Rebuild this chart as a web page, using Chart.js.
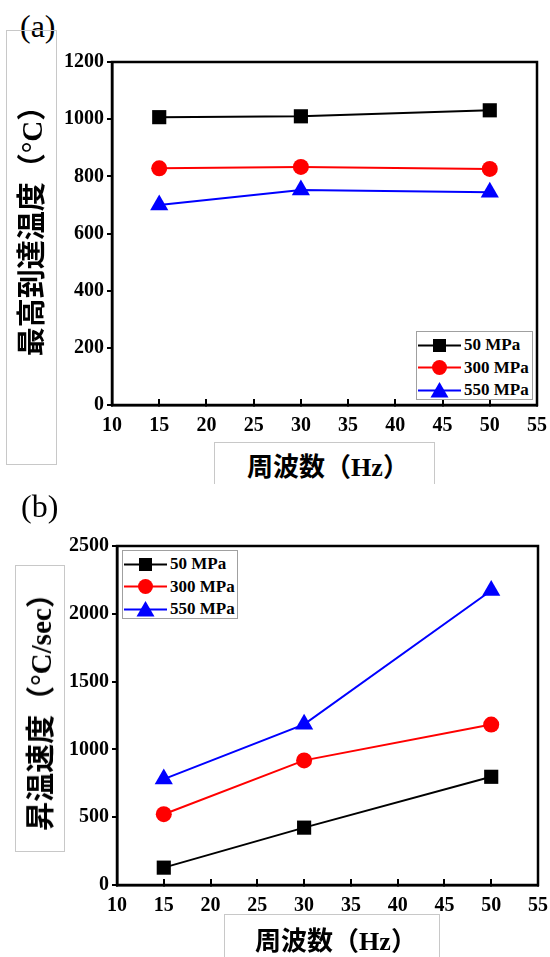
<!DOCTYPE html>
<html>
<head>
<meta charset="utf-8">
<script src="https://cdn.jsdelivr.net/npm/chart.js@4/dist/chart.umd.min.js"></script>
<style>
  html, body { margin: 0; padding: 0; background: #fff; }
  body { width: 550px; height: 957px; position: relative; overflow: hidden; }
  .wrap { position: absolute; left: 0; width: 550px; height: 440px; }
  .box { position: absolute; border: 1px solid #c8c8c8; box-sizing: border-box; }
  .panel { position: absolute; font: 32px "Liberation Serif", serif; line-height: 1; }
  .title { position: absolute; white-space: nowrap; font-weight: 700; line-height: 1; transform: translate(-50%, -50%); }
  .title.y { transform: translate(-50%, -50%) rotate(-90deg); }
  .cjk { font-family: "Noto Sans CJK JP", sans-serif; }
  .ser { font-family: "Liberation Serif", serif; }
  .legend { position: absolute; border: 1px solid #a0a0a0; background: #fff; box-sizing: border-box; }
  .row { position: absolute; left: 1px; height: 20px; display: flex; align-items: center; font: 700 17px "Liberation Serif", serif; white-space: nowrap; }
  .row svg { margin-right: 3px; }
</style>
</head>
<body>

<div class="panel" style="left:20px; top:10px;">(a)</div>
<div class="box" style="left:6px; top:30px; width:51px; height:435px;"></div>
<div class="wrap" style="top:0;"><canvas id="chartTop"></canvas></div>
<div class="box" style="left:214px; top:442px; width:221px; height:42px; border-bottom:none;"></div>
<div class="title y" style="left:31px; top:224px; font-size:29px;"><span class="cjk">最高到達温度（</span><span class="ser">°C</span><span class="cjk">）</span></div>
<div class="title" style="left:328px; top:466px; font-size:26px;"><span class="cjk">周波数（</span><span class="ser">Hz</span><span class="cjk">）</span></div>
<div class="legend" id="legendTop" style="left:416px; top:331px; width:117px; height:69px;"></div>

<div class="panel" style="left:21px; top:490px;">(b)</div>
<div class="box" style="left:15px; top:565px; width:50px; height:287px;"></div>
<div class="wrap" style="top:480px;"><canvas id="chartBottom"></canvas></div>
<div class="box" style="left:224px; top:914px; width:216px; height:60px; border-bottom:none;"></div>
<div class="title y" style="left:40px; top:705px; font-size:29px;"><span class="cjk">昇温速度（</span><span class="ser">°C/sec</span><span class="cjk">）</span></div>
<div class="title" style="left:336px; top:940px; font-size:26px;"><span class="cjk">周波数（</span><span class="ser">Hz</span><span class="cjk">）</span></div>
<div class="legend" id="legendBottom" style="left:122px; top:550px; width:116px; height:69px;"></div>

<script>
// data
const freq = [15, 30, 50];
const seriesNames = ['50 MPa', '300 MPa', '550 MPa'];

// (a) peak temperature, °C
const peak50 = [1007, 1010, 1031];
const peak300 = [828, 833, 826];
const peak550 = [700, 752, 744];

// (b) heating rate, °C/sec
const rate50 = [128, 423, 798];
const rate300 = [522, 919, 1183];
const rate550 = [781, 1185, 2172];

const xTicks = [10, 15, 20, 25, 30, 35, 40, 45, 50, 55];
const yTicksTop = [0, 200, 400, 600, 800, 1000, 1200];
const yTicksBottom = [0, 500, 1000, 1500, 2000, 2500];

const colors = ['#000000', '#ff0000', '#0000ff'];
const shapes = ['rect', 'circle', 'triangle'];
const radii = [10, 8, 10.5];

const tickFont = { family: 'Liberation Serif', size: 20, weight: 'bold' };

// box around the plot area
const frame = {
  id: 'frame',
  afterDraw(chart) {
    const { ctx, chartArea: a } = chart;
    ctx.save();
    ctx.strokeStyle = '#000';
    ctx.lineWidth = 2.5;
    ctx.strokeRect(a.left, a.top, a.right - a.left, a.bottom - a.top);
    ctx.restore();
  },
};

function makeDatasets(values) {
  return values.map((v, i) => ({
    label: seriesNames[i],
    data: freq.map((f, j) => ({ x: f, y: v[j] })),
    borderColor: colors[i],
    backgroundColor: colors[i],
    pointBackgroundColor: colors[i],
    pointBorderColor: colors[i],
    pointStyle: shapes[i],
    pointRadius: radii[i],
    pointBorderWidth: 0,
    borderWidth: 2,
    tension: 0,
  }));
}

function renderChart(id, values, yTicks, pad, yWidth) {
  const ctx = document.getElementById(id);
  new Chart(ctx, {
    type: 'line',
    data: { datasets: makeDatasets(values) },
    options: {
      responsive: true,
      maintainAspectRatio: false,
      animation: false,
      events: [],
      layout: { padding: pad },
      plugins: { legend: { display: false }, tooltip: { enabled: false } },
      scales: {
        x: {
          type: 'linear',
          min: xTicks[0],
          max: xTicks[xTicks.length - 1],
          afterBuildTicks: s => { s.ticks = xTicks.map(v => ({ value: v })); },
          afterFit: s => { s.height = 35; s.paddingLeft = 0; s.paddingRight = 0; },
          ticks: { color: '#000', font: tickFont, padding: 15, maxRotation: 0, autoSkip: false, callback: v => String(v) },
          grid: { drawOnChartArea: false, drawTicks: true, tickLength: -6, color: '#000', lineWidth: 2 },
          border: { display: true, color: '#000', width: 2.5 },
        },
        y: {
          min: yTicks[0],
          max: yTicks[yTicks.length - 1],
          afterBuildTicks: s => { s.ticks = yTicks.map(v => ({ value: v })); },
          afterFit: s => { s.width = yWidth; s.paddingTop = 0; s.paddingBottom = 0; },
          ticks: { color: '#000', font: tickFont, padding: 3, autoSkip: false, callback: v => String(v) },
          grid: { drawOnChartArea: false, drawTicks: true, tickLength: 5, color: '#000', lineWidth: 2 },
          border: { display: true, color: '#000', width: 2.5 },
        },
      },
    },
    plugins: [frame],
  });
}

// legend rows: line with the marker in the middle
function marker(i) {
  const c = colors[i];
  let m;
  if (shapes[i] === 'rect') m = `<rect x="15" y="4" width="13" height="13" fill="${c}"/>`;
  else if (shapes[i] === 'circle') m = `<circle cx="21.5" cy="10.5" r="7.5" fill="${c}"/>`;
  else m = `<polygon points="21.5,2 30.5,17.5 12.5,17.5" fill="${c}"/>`;
  return `<svg width="43" height="21"><line x1="0" y1="10.5" x2="43" y2="10.5" stroke="${c}" stroke-width="2"/>${m}</svg>`;
}

function renderLegend(id) {
  const el = document.getElementById(id);
  el.innerHTML = seriesNames.map((n, i) =>
    `<div class="row" style="top:${3 + i * 22.5}px">${marker(i)}<span>${n}</span></div>`).join('');
}

renderChart('chartTop', [peak50, peak300, peak550], yTicksTop, { top: 62, right: 13, left: 0, bottom: 0 }, 112);
renderChart('chartBottom', [rate50, rate300, rate550], yTicksBottom, { top: 66, right: 12, left: 0, bottom: 0 }, 117);
renderLegend('legendTop');
renderLegend('legendBottom');
</script>
</body>
</html>
